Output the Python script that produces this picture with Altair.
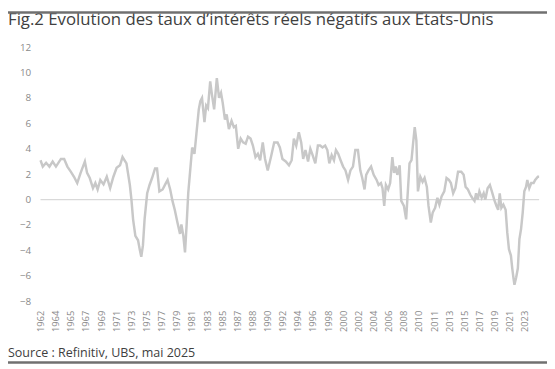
import altair as alt
import pandas as pd

years = [
    1962.00, 1962.29, 1962.71, 1963.13, 1963.54, 1963.96, 1964.59, 1965.00, 1965.41, 1965.84,
    1966.25, 1966.66, 1967.09, 1967.63, 1967.91, 1968.25, 1968.66, 1968.96, 1969.25, 1969.59,
    1970.00, 1970.41, 1970.84, 1971.25, 1971.66, 1972.09, 1972.41, 1972.91, 1973.34, 1973.54,
    1973.75, 1974.04, 1974.38, 1974.59, 1974.79, 1975.00, 1975.21, 1975.54, 1975.84, 1976.16,
    1976.54, 1976.79, 1977.09, 1977.50, 1977.91, 1978.13, 1978.46, 1978.75, 1979.04, 1979.38,
    1979.71, 1979.88, 1980.13, 1980.34, 1980.54, 1980.75, 1981.04, 1981.25, 1981.54, 1981.79,
    1982.09, 1982.29, 1982.50, 1982.63, 1982.81, 1983.03, 1983.25, 1983.54, 1983.75, 1984.04,
    1984.38, 1984.66, 1984.91, 1985.13, 1985.41, 1985.63, 1985.91, 1986.25, 1986.54, 1986.79,
    1987.09, 1987.41, 1987.71, 1988.04, 1988.34, 1988.66, 1988.96, 1989.29, 1989.59, 1989.88,
    1990.21, 1990.50, 1990.84, 1991.25, 1991.66, 1992.09, 1992.38, 1992.71, 1993.13, 1993.54,
    1993.88, 1994.16, 1994.46, 1994.79, 1995.09, 1995.34, 1995.63, 1995.96, 1996.25, 1996.54,
    1996.88, 1997.21, 1997.50, 1997.79, 1998.13, 1998.41, 1998.66, 1998.96, 1999.25, 1999.50,
    1999.79, 2000.09, 2000.41, 2000.71, 2001.04, 2001.34, 2001.66, 2001.96, 2002.29, 2002.59,
    2002.84, 2003.13, 2003.34, 2003.63, 2003.96, 2004.29, 2004.66, 2004.91, 2005.21, 2005.41,
    2005.63, 2005.84, 2006.13, 2006.38, 2006.66, 2006.88, 2007.09, 2007.29, 2007.59, 2007.79,
    2008.13, 2008.41, 2008.66, 2008.84, 2009.09, 2009.29, 2009.50, 2009.71, 2009.91, 2010.21,
    2010.50, 2010.75, 2011.04, 2011.25, 2011.54, 2011.79, 2012.09, 2012.38, 2012.63, 2012.91,
    2013.25, 2013.54, 2013.84, 2014.09, 2014.38, 2014.66, 2015.00, 2015.41, 2015.71, 2015.96,
    2016.25, 2016.54, 2016.79, 2017.09, 2017.29, 2017.50, 2017.71, 2018.00, 2018.25, 2018.46,
    2018.75, 2019.04, 2019.29, 2019.59, 2019.88, 2020.09, 2020.29, 2020.50, 2020.75, 2021.04,
    2021.25, 2021.46, 2021.71, 2021.88, 2022.04, 2022.16, 2022.38, 2022.59, 2022.79, 2023.00,
    2023.21, 2023.41, 2023.63, 2023.79, 2024.04, 2024.29, 2024.59, 2024.79, 2025.13, 2025.29,
]
rates = [
    3.1, 2.6, 2.9, 2.6, 3.0, 2.6, 3.2, 3.2, 2.6, 2.2,
    1.8, 1.3, 2.1, 3.0, 2.1, 1.7, 0.9, 1.3, 0.8, 1.55,
    1.2, 1.8, 0.9, 1.8, 2.5, 2.7, 3.35, 2.85, 1.15, 0.0,
    -1.55, -2.85, -3.2, -3.9, -4.5, -3.6, -1.55, 0.5, 1.15, 1.7,
    2.45, 2.45, 0.65, 0.8, 1.3, 1.55, 0.8, -0.1, -0.8, -1.8,
    -2.7, -1.95, -2.85, -4.15, -2.05, 0.5, 2.6, 4.1, 3.6, 5.2,
    7.1, 7.75, 8.0, 7.2, 6.1, 7.4, 7.2, 9.3, 8.3, 7.1,
    9.55, 8.0, 8.4, 7.6, 6.3, 6.7, 5.55, 6.2, 5.7, 5.8,
    4.0, 4.8, 4.5, 4.4, 4.95, 4.8, 4.25, 3.35, 3.6, 3.1,
    4.5, 3.2, 2.3, 3.35, 4.5, 4.5, 4.1, 3.2, 3.0, 2.7,
    3.1, 4.8, 4.25, 5.3, 4.5, 3.2, 3.9, 3.0, 4.0, 3.5,
    2.85, 4.25, 4.25, 4.1, 4.25, 3.9, 2.85, 3.5, 3.1, 3.9,
    3.6, 3.1, 2.6, 2.3, 1.55, 2.3, 2.6, 3.9, 3.9, 2.3,
    1.7, 0.8, 1.95, 2.3, 2.6, 1.95, 1.55, 1.15, 1.3, 0.9,
    -0.5, 1.15, 0.8, 1.3, 3.35, 2.1, 2.6, 1.95, 2.7, -0.1,
    -0.5, -1.55, 1.0, 2.85, 3.1, 4.4, 5.7, 4.65, 0.65, 1.8,
    1.4, 1.7, 1.0, -0.5, -1.8, -1.0, -0.65, 0.15, -0.4, 0.25,
    0.65, 1.7, 1.55, 1.3, 0.5, 0.9, 2.2, 2.2, 1.95, 1.0,
    0.8, 0.4, 0.15, -0.1, 0.5, 0.0, 0.65, 0.15, 0.5, 0.0,
    0.9, 1.15, 0.65, 0.0, -0.5, -0.8, 0.5, -0.65, -0.4, -0.8,
    -2.6, -3.9, -4.4, -5.4, -6.2, -6.7, -6.1, -5.4, -3.1, -2.3,
    -1.0, 0.65, 1.0, 1.55, 0.9, 1.3, 1.3, 1.55, 1.8, 1.8,
]
tick_labels = [
    "1962", "1964", "1965", "1967", "1969", "1971", "1973", "1975", "1977", "1979",
    "1981", "1983", "1985", "1987", "1988", "1990", "1992", "1994", "1996", "1998",
    "2000", "2002", "2004", "2006", "2008", "2010", "2011", "2013", "2015", "2017",
    "2019", "2021", "2023",
]
y_ticks = [-8, -6, -4, -2, 0, 2, 4, 6, 8, 10, 12]
title_text = "Fig.2 Evolution des taux d\u2019intérêts réels négatifs aux Etats-Unis"
source_text = "Source : Refinitiv, UBS, mai 2025"

df = pd.DataFrame({"annee": years, "taux": rates})

# category-style axis labels spread evenly (as in the source chart)
x_first, x_last = 1962.0, 2023.5
step = (x_last - x_first) / (len(tick_labels) - 1)
tick_vals = [x_first + i * step for i in range(len(tick_labels))]
label_expr = "[" + ",".join(f"'{l}'" for l in tick_labels) + f"][round((datum.value-{x_first})/{step})]"

AXFONT = "Open Sans"
TFONT = "Open Sans"
GREY = "#8a8a8a"

x_axis = alt.Axis(
    values=tick_vals, labelExpr=label_expr, labelAngle=270, labelAlign="right",
    labelBaseline="middle", labelPadding=9, ticks=False, domain=False, grid=False,
    labelOverlap=False, labelFlush=False, labelFontSize=9.5, labelColor=GREY,
    labelFont=AXFONT, title=None,
)
y_axis = alt.Axis(
    values=y_ticks, labelPadding=10, ticks=False, domain=False, grid=False,
    labelOverlap=False, labelFlush=False, labelFontSize=10, labelColor=GREY,
    labelFont=AXFONT, title=None,
)
x_scale = alt.Scale(domain=[1962.0, 2025.29], nice=False, zero=False)
y_scale = alt.Scale(domain=[-8, 12], nice=False)

line = alt.Chart(df).mark_line(color="#c8c8c8", strokeWidth=2.5).encode(
    x=alt.X("annee:Q", scale=x_scale, axis=x_axis),
    y=alt.Y("taux:Q", scale=y_scale, axis=y_axis),
)

zero_rule = alt.Chart(pd.DataFrame({"z": [0]})).mark_rule(
    color="#d9d9d9", strokeWidth=1.5
).encode(y=alt.Y("z:Q", scale=y_scale, axis=y_axis))

one = pd.DataFrame({"t": [title_text], "s": [source_text]})
title = alt.Chart(one).mark_text(
    align="left", baseline="alphabetic", font=TFONT, fontSize=17, color="#404040"
).encode(text="t:N", x=alt.value(-33), y=alt.value(-22))
source = alt.Chart(one).mark_text(
    align="left", baseline="alphabetic", font=TFONT, fontSize=12.7, color="#404040"
).encode(text="s:N", x=alt.value(-33), y=alt.value(315))
top_rule = alt.Chart(one).mark_rule(color="#707070", strokeWidth=2.5).encode(
    x=alt.value(-33), x2=alt.value(514), y=alt.value(-35)
)
bottom_rule = alt.Chart(one).mark_rule(color="#707070", strokeWidth=2.5).encode(
    x=alt.value(-33), x2=alt.value(514), y=alt.value(320)
)

chart = (
    alt.layer(zero_rule, line, title, source, top_rule, bottom_rule)
    .properties(
        width=506, height=258,
        padding={"left": 33, "top": 37, "right": 8, "bottom": 64},
        autosize=alt.AutoSizeParams(type="none"),
    )
    .configure_view(stroke=None)
)

chart.save("out.html", embed_options={"renderer": "svg", "actions": False})
